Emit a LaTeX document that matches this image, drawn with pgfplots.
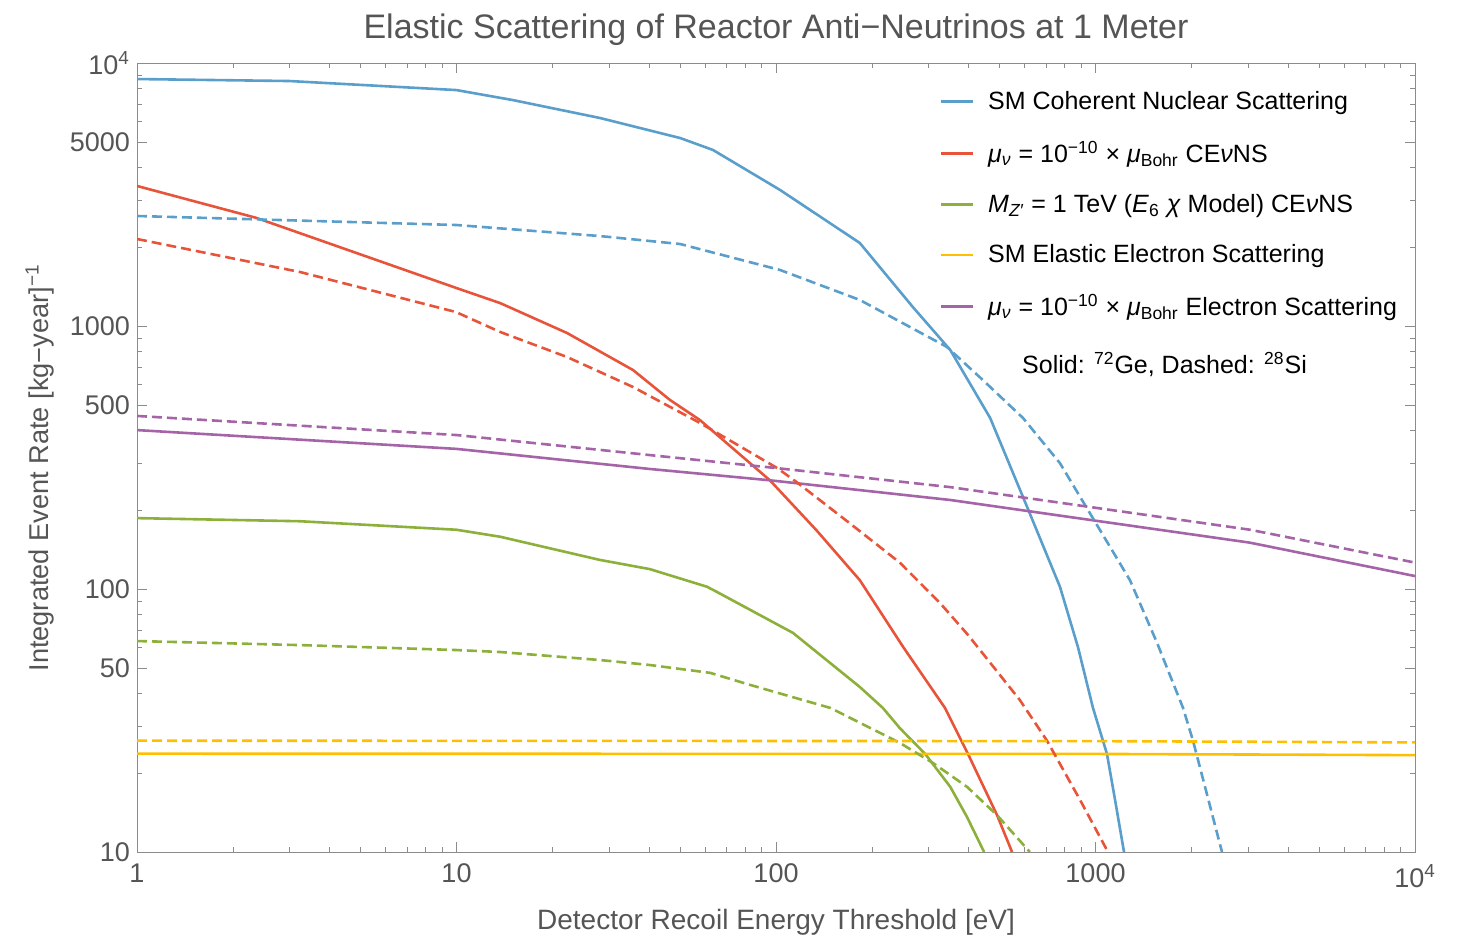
\documentclass[border=0pt]{standalone}
\usepackage{fontspec}
\setmainfont{Liberation Sans}
\usepackage{pgfplots}
\pgfplotsset{compat=1.18}

\definecolor{cBlue}{HTML}{5A9ECB}
\definecolor{cRed}{HTML}{E8543A}
\definecolor{cGreen}{HTML}{8CB03A}
\definecolor{cYellow}{HTML}{FDBF00}
\definecolor{cPurple}{HTML}{A563A8}
\definecolor{axgray}{HTML}{8C8C8C}
\definecolor{txtgray}{HTML}{555555}

\begin{document}
\begin{tikzpicture}
\path[use as bounding box] (0,0) rectangle (733pt,468.5pt);
\begin{axis}[
  at={(68.5pt,42.5pt)}, anchor=south west,
  scale only axis, width=639pt, height=394.5pt,
  xmode=log, ymode=log,
  xmin=1, xmax=10000, ymin=10, ymax=10000,
  axis line style={draw=axgray},
  tick style={draw=axgray},
  major tick length=5pt, minor tick length=2.5pt,
  xtick={1,10,100,1000,10000},
  xticklabels={1,10,100,1000,10\textsuperscript{4}},
  minor xtick={2,3,4,5,6,7,8,9,20,30,40,50,60,70,80,90,200,300,400,500,600,700,800,900,2000,3000,4000,5000,6000,7000,8000,9000},
  ytick={10,50,100,500,1000,5000,10000},
  yticklabels={10,50,100,500,1000,5000,10\textsuperscript{4}},
  minor ytick={20,30,40,60,70,80,90,200,300,400,600,700,800,900,2000,3000,4000,6000,7000,8000,9000},
  tick label style={font=\fontsize{13.5}{16}\selectfont, text=txtgray},
  xticklabel style={yshift=-2.5pt},
  title={Elastic Scattering of Reactor Anti−Neutrinos at 1 Meter},
  title style={at={(axis description cs:0.5,1)}, anchor=base, yshift=6pt,
    font=\fontsize{17}{20}\selectfont, text=txtgray},
  xlabel={Detector Recoil Energy Threshold [eV]},
  xlabel style={at={(axis description cs:0.5,-0.0976)}, anchor=base,
    font=\fontsize{14}{17}\selectfont, text=txtgray},
  ylabel={Integrated Event Rate [kg−year]\textsuperscript{−1}},
  ylabel style={at={(axis description cs:-0.0689,0.487)}, anchor=base, rotate=0,
    font=\fontsize{13.6}{17}\selectfont, text=txtgray},
  legend style={draw=none, fill=none, at={(axis description cs:0.623,0.975)},
    anchor=north west, font=\fontsize{12.5}{15}\selectfont, row sep=10.5pt,
    /tikz/every odd column/.append style={column sep=5pt}},
  legend cell align=left,
  legend image code/.code={\draw[#1] (0pt,0pt) -- (16pt,0pt);},
  every axis plot/.append style={line width=1.3pt},
]
% SM coherent nuclear scattering
\addplot[cBlue] coordinates {(1,8690) (3,8540) (10,7890) (15,7230) (28.1,6180) (50.1,5185) (63.5,4670) (103,3290) (183,2068) (268,1181) (351,811) (468,447) (611,205) (774,102) (881,60.2) (982,35.3) (1086,23.6) (1151,15.8) (1228,10)};
\addlegendentry{SM Coherent Nuclear Scattering}
% magnetic moment CEvNS
\addplot[cRed] coordinates {(1,3408) (2.36,2578) (10,1394) (13.7,1222) (22.2,940) (35.7,680) (46.6,523) (57.8,439) (95.7,259) (134,167) (183,108) (250,60.2) (338,35.3) (399,23.6) (492,13.8) (548,10)};
\addlegendentry{\textit{μ}\textsubscript{\textit{ν}} = 10\textsuperscript{−10} × \textit{μ}\textsubscript{Bohr} CE\textit{ν}NS}
% Z' CEvNS
\addplot[cGreen] coordinates {(1,186) (3.24,181) (10,168) (13.7,158) (28.1,129) (40.3,119) (60.8,102) (65.3,97.5) (113,68.1) (183,42.4) (216,35.3) (244,29.6) (293,23.6) (351,17.7) (396,13.6) (448,10)};
\addlegendentry{\textit{M}\textsubscript{\textit{Z′}} = 1 TeV (\textit{E}\textsubscript{6} \textit{χ} Model) CE\textit{ν}NS}
% SM electron scattering
\addplot[cYellow] coordinates {(1,23.65) (1000,23.6) (10000,23.35)};
\addlegendentry{SM Elastic Electron Scattering}
% magnetic moment electron scattering
\addplot[cPurple] coordinates {(1,402) (10,341) (40.3,286) (95.7,259) (351,218) (3046,150) (10000,112)};
\addlegendentry{\textit{μ}\textsubscript{\textit{ν}} = 10\textsuperscript{−10} × \textit{μ}\textsubscript{Bohr} Electron Scattering}

% Si (dashed)
\addplot[cBlue, dash pattern=on 5pt off 2.5pt, forget plot] coordinates {(1,2620) (10,2421) (28.1,2198) (50.1,2050) (103,1633) (183,1256) (343,832) (444,623) (593,447) (774,301) (961,194) (1282,108) (1559,62.3) (1879,35.3) (2019,26.5) (2488,10)};
\addplot[cRed, dash pattern=on 5pt off 2.5pt, forget plot] coordinates {(1,2142) (3.24,1604) (9.96,1130) (13.7,949) (22.2,762) (35.7,586) (57.8,428) (101,288) (116,255) (170,178) (244,126) (326,88.5) (399,66.9) (580,37.8) (705,26.5) (894,15.8) (1094,10)};
\addplot[cGreen, dash pattern=on 5pt off 2.5pt, forget plot] coordinates {(1,63.4) (3.24,61.2) (10,58.6) (13.7,57.6) (28.1,53.7) (40.3,51.4) (62.2,48.0) (82.9,43.2) (148,35.3) (244,26.0) (310,21.8) (396,17.7) (492,13.8) (623,10)};
\addplot[cYellow, dash pattern=on 5pt off 2.5pt, forget plot] coordinates {(1,26.5) (1000,26.4) (10000,26.1)};
\addplot[cPurple, dash pattern=on 5pt off 2.5pt, forget plot] coordinates {(1,455) (10,385) (40.3,323) (101,288) (351,244) (3046,168) (10000,126)};

\node[anchor=base, font=\fontsize{12.5}{15}\selectfont] at (rel axis cs:0.804,0.607)
  {Solid: \textsuperscript{72}Ge, Dashed: \textsuperscript{28}Si};
\end{axis}
\end{tikzpicture}
\end{document}
